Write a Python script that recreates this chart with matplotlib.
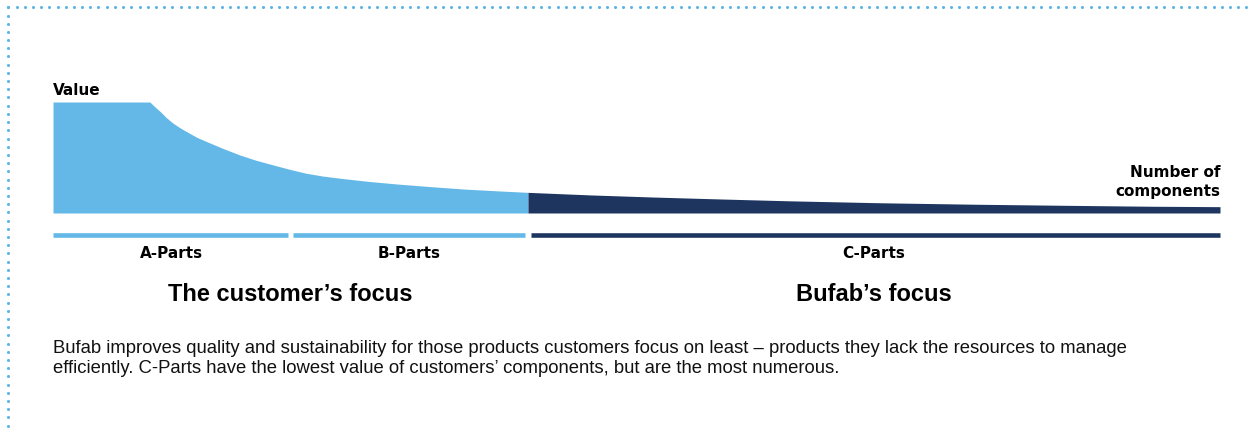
import numpy as np
import matplotlib
matplotlib.use("Agg")
import matplotlib.pyplot as plt
from matplotlib import transforms

# --- datos: curva valor vs. numero de componentes (x en %, valor en % del maximo) ---
share = [0, 8.3, 8.8, 9.2, 9.7, 10.3, 11.0, 11.7, 12.4, 13.2, 14.6, 16.0, 17.4, 18.9,
         20.3, 21.7, 23.1, 24.6, 27.0, 29.5, 32.3, 35.2, 38.0, 40.7,
         46.0, 51.4, 57.0, 63.0, 71.0, 79.0, 87.0, 94.0, 100]
value = [100, 100, 95.0, 91.3, 86.0, 80.8, 76.0, 71.8, 67.8, 64.2, 58.0, 52.3, 47.5, 43.2,
         39.3, 35.8, 33.3, 31.3, 28.5, 26.1, 23.8, 21.6, 20.0, 18.6,
         16.3, 14.4, 12.7, 11.0, 9.2, 7.9, 6.9, 6.1, 5.7]

part_names = ["A-Parts", "B-Parts", "C-Parts"]
part_edges = [0, 20.35, 40.7, 100]
focus_names = ["The customer\u2019s focus", "Bufab\u2019s focus"]
focus_edges = [0, 40.7, 100]

caption_lines = [
    "Bufab improves quality and sustainability for those products customers focus on least \u2013 "
    "products they lack the resources to manage",
    "efficiently. C-Parts have the lowest value of customers\u2019 components, but are the most numerous.",
]

light = "#63b8e8"
dark = "#1e365f"
dots = "#5fb6e6"

W, H = 1248, 432
fig = plt.figure(figsize=(W / 100, H / 100), dpi=100)
fig.patch.set_facecolor("white")

def fx(px):
    return px / W

def fy(py):
    return 1 - py / H

# marco punteado (arriba e izquierda)
deco = fig.add_axes([0, 0, 1, 1])
deco.set_xlim(0, W)
deco.set_ylim(H, 0)
deco.axis("off")
xs = np.arange(8.3, W, 8.2)
ys = np.arange(7.3, H, 8.2)
deco.scatter(xs, np.full(len(xs), 7.3), s=5, color=dots, linewidths=0)
deco.scatter(np.full(len(ys), 8.3), ys, s=5, color=dots, linewidths=0)

# area principal de la curva
ax = fig.add_axes([fx(53), fy(213), 1167 / W, 111 / H])
ax.set_xlim(0, 100)
ax.set_ylim(0, 100)
ax.axis("off")

share = np.array(share)
value = np.array(value)
split = part_edges[2]
m_a = share <= split
m_c = share >= split
ax.fill_between(share[m_a], 0, value[m_a], color=light, linewidth=0)
ax.fill_between(share[m_c], 0, value[m_c], color=dark, linewidth=0)

# barras de las partes
bar_y = (213 - 235) / 111 * 100
half_gap = 0.23
bar_colors = [light, light, dark]
for i in range(3):
    x0 = part_edges[i] + (half_gap if i > 0 else 0)
    x1 = part_edges[i + 1] - (half_gap if i < 2 else 0)
    ax.plot([x0, x1], [bar_y, bar_y], color=bar_colors[i], lw=3.3,
            solid_capstyle="butt", clip_on=False)

blend = transforms.blended_transform_factory(ax.transData, fig.transFigure)

for i, name in enumerate(part_names):
    mid = (part_edges[i] + part_edges[i + 1]) / 2
    ax.text(mid, fy(258), name, transform=blend, ha="center", va="baseline",
            fontsize=11, fontweight="bold", family="DejaVu Sans")

for i, name in enumerate(focus_names):
    mid = (focus_edges[i] + focus_edges[i + 1]) / 2
    ax.text(mid, fy(301), name, transform=blend, ha="center", va="baseline",
            fontsize=17, fontweight="bold", family="Liberation Sans")

fig.text(fx(53), fy(95), "Value", ha="left", va="baseline",
         fontsize=11, fontweight="bold", family="DejaVu Sans")
fig.text(fx(1220), fy(177), "Number of", ha="right", va="baseline",
         fontsize=11, fontweight="bold", family="DejaVu Sans")
fig.text(fx(1220), fy(196), "components", ha="right", va="baseline",
         fontsize=11, fontweight="bold", family="DejaVu Sans")

for k, line in enumerate(caption_lines):
    fig.text(fx(53), fy(353 + 20 * k), line, ha="left", va="baseline",
             fontsize=13.3, family="Liberation Sans", color="#111111")

fig.savefig("out.png", dpi=100)
plt.close(fig)
